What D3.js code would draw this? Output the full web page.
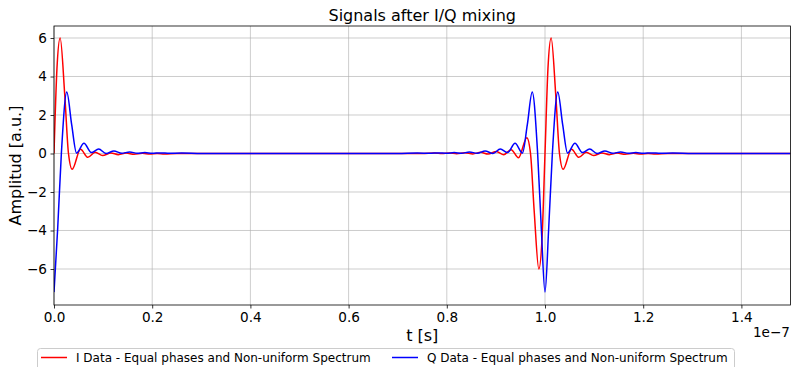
<!DOCTYPE html>
<html>
<head>
<meta charset="utf-8">
<script src="https://cdn.jsdelivr.net/npm/d3@7"></script>
<style>
  html, body { margin: 0; padding: 0; background: #fff; }
  svg { display: block; font-family: "DejaVu Sans", sans-serif; }
</style>
</head>
<body>
<svg id="chart" width="791" height="367"></svg>
<script>
// Time in ns (axis shown in units of 1e-7 s)
const tI = [0, 0.6, 1.25, 2.2, 2.95, 3.7, 5.4, 6.9, 8.4, 9.9, 11.6, 13.1, 14.7, 16.3, 18, 19.5, 21, 22.5, 25, 30,
  50, 70,
  75, 77.5, 79, 80.5, 82, 83.7, 85.3, 86.9, 88.4, 90.1, 91.6, 93.1, 94.6, 96.3, 97.05, 97.8, 98.75, 99.4, 100,
  100.6, 101.25, 102.2, 102.95, 103.7, 105.4, 106.9, 108.4, 109.9, 111.6, 113.1, 114.7, 116.3, 118, 119.5, 121, 122.5, 125, 130, 150];
const vI = [0, 4.4, 6.0, 3.0, 0, -0.82, 0.22, -0.2, 0.06, -0.11, 0.03, -0.06, 0.02, -0.04, 0.01, -0.03, 0, -0.02, 0, 0,
  0, 0,
  0, 0.02, 0, 0.03, -0.01, 0.04, -0.02, 0.06, -0.03, 0.11, -0.06, 0.2, -0.22, 0.82, 0, -3.0, -6.0, -4.4, 0,
  4.4, 6.0, 3.0, 0, -0.82, 0.22, -0.2, 0.06, -0.11, 0.03, -0.06, 0.02, -0.04, 0.01, -0.03, 0, -0.02, 0, 0, 0];

const tQ = [0, 0.75, 1.5, 2.6, 3.6, 4.6, 6.1, 7.6, 9.1, 10.6, 12.2, 13.8, 15.4, 17, 18.5, 20, 21.7, 23.5, 26, 30,
  50, 70,
  74, 76.5, 78.3, 80, 81.5, 83, 84.6, 86.2, 87.8, 89.4, 90.9, 92.4, 93.9, 95.4, 96.4, 97.4, 98.5, 99.25, 100,
  100.75, 101.5, 102.6, 103.6, 104.6, 106.1, 107.6, 109.1, 110.6, 112.2, 113.8, 115.4, 117, 118.5, 120, 121.7, 123.5, 126, 130, 150];
const vQ = [-7.2, -3.9, 0, 3.19, 1.5, 0.02, 0.53, 0.05, 0.23, 0.0, 0.13, 0.01, 0.08, 0.01, 0.05, 0.01, 0.03, 0.01, 0.02, 0,
  0, 0,
  0.02, 0.01, 0.03, 0.01, 0.05, 0.01, 0.08, 0.01, 0.13, 0.0, 0.23, 0.05, 0.53, 0.02, 1.5, 3.19, 0, -3.9, -7.2,
  -3.9, 0, 3.19, 1.5, 0.02, 0.53, 0.05, 0.23, 0.0, 0.13, 0.01, 0.08, 0.01, 0.05, 0.01, 0.03, 0.01, 0.02, 0, 0];

const xTicks = [0, 20, 40, 60, 80, 100, 120, 140];
const xTickLabels = ["0.0", "0.2", "0.4", "0.6", "0.8", "1.0", "1.2", "1.4"];
const yTicks = [-6, -4, -2, 0, 2, 4, 6];
const yTickLabels = ["\u22126", "\u22124", "\u22122", "0", "2", "4", "6"];
const seriesNames = ["I Data - Equal phases and Non-uniform Spectrum", "Q Data - Equal phases and Non-uniform Spectrum"];
const seriesColors = ["#ff0000", "#0000ff"];

const L = 54, R = 790.5, T = 26, B = 305;
const svg = d3.select("#chart");
const x = d3.scaleLinear().domain([0, 150]).range([L, R]);
const y = d3.scaleLinear().domain([-7.87, 6.623]).range([B, T]);

svg.append("defs").append("clipPath").attr("id", "clip")
  .append("rect").attr("x", L).attr("y", T).attr("width", R - L).attr("height", B - T);

// grid
const grid = svg.append("g");
grid.selectAll(".gx").data(xTicks).enter().append("line")
  .attr("x1", d => x(d)).attr("x2", d => x(d)).attr("y1", T).attr("y2", B)
  .attr("stroke", "#b0b0b0").attr("stroke-width", 0.8).attr("stroke-opacity", 0.8);
grid.selectAll(".gy").data(yTicks).enter().append("line")
  .attr("x1", L).attr("x2", R).attr("y1", d => y(d)).attr("y2", d => y(d))
  .attr("stroke", "#b0b0b0").attr("stroke-width", 0.8).attr("stroke-opacity", 0.8);

// lines
const mk = (ts, vs) => ts.map((t, i) => [t, vs[i]]);
const line = d3.line().x(d => x(d[0])).y(d => y(d[1])).curve(d3.curveMonotoneX);
const plot = svg.append("g").attr("clip-path", "url(#clip)");
plot.append("path").datum(mk(tI, vI)).attr("d", line)
  .attr("fill", "none").attr("stroke", seriesColors[0]).attr("stroke-width", 1.5).attr("stroke-linejoin", "round");
plot.append("path").datum(mk(tQ, vQ)).attr("d", line)
  .attr("fill", "none").attr("stroke", seriesColors[1]).attr("stroke-width", 1.5).attr("stroke-linejoin", "round");

// axes
const xAxis = d3.axisBottom(x).tickValues(xTicks).tickFormat((d, i) => xTickLabels[i]).tickSize(3.5).tickPadding(3.5).tickSizeOuter(0);
const yAxis = d3.axisLeft(y).tickValues(yTicks).tickFormat((d, i) => yTickLabels[i]).tickSize(3.5).tickPadding(3.5).tickSizeOuter(0);
const gx = svg.append("g").attr("transform", `translate(0,${B})`).call(xAxis);
const gy = svg.append("g").attr("transform", `translate(${L},0)`).call(yAxis);
[gx, gy].forEach(g => {
  g.select(".domain").remove();
  g.selectAll(".tick line").attr("stroke", "#000").attr("stroke-width", 0.8);
  g.selectAll(".tick text").attr("fill", "#000").attr("font-size", "13.6px").attr("font-family", "DejaVu Sans");
});

// spines
svg.append("rect").attr("x", L).attr("y", T).attr("width", R - L).attr("height", B - T)
  .attr("fill", "none").attr("stroke", "#000").attr("stroke-width", 0.8);

// texts
svg.append("text").attr("x", (L + R) / 2).attr("y", 21).attr("text-anchor", "middle")
  .attr("font-size", "16px").attr("fill", "#000").text("Signals after I/Q mixing");
svg.append("text").attr("transform", `translate(21,${(T + B) / 2}) rotate(-90)`).attr("text-anchor", "middle")
  .attr("font-size", "16px").attr("fill", "#000").text("Amplitud [a.u.]");
svg.append("text").attr("x", (L + R) / 2).attr("y", 341).attr("text-anchor", "middle")
  .attr("font-size", "16px").attr("fill", "#000").text("t [s]");
svg.append("text").attr("x", 790).attr("y", 337).attr("text-anchor", "end")
  .attr("font-size", "13.6px").attr("fill", "#000").text("1e\u22127");

// legend
const lg = svg.append("g");
lg.append("rect").attr("x", 37.5).attr("y", 348.5).attr("width", 697).attr("height", 30).attr("rx", 3)
  .attr("fill", "#fff").attr("fill-opacity", 0.8).attr("stroke", "#cccccc").attr("stroke-width", 1);
const lx = [41, 392];
seriesNames.forEach((name, i) => {
  lg.append("line").attr("x1", lx[i]).attr("x2", lx[i] + 26).attr("y1", 357.5).attr("y2", 357.5)
    .attr("stroke", seriesColors[i]).attr("stroke-width", 1.5);
  lg.append("text").attr("x", lx[i] + 35).attr("y", 362).attr("font-size", "12px").attr("fill", "#000").text(name);
});
</script>
</body>
</html>
